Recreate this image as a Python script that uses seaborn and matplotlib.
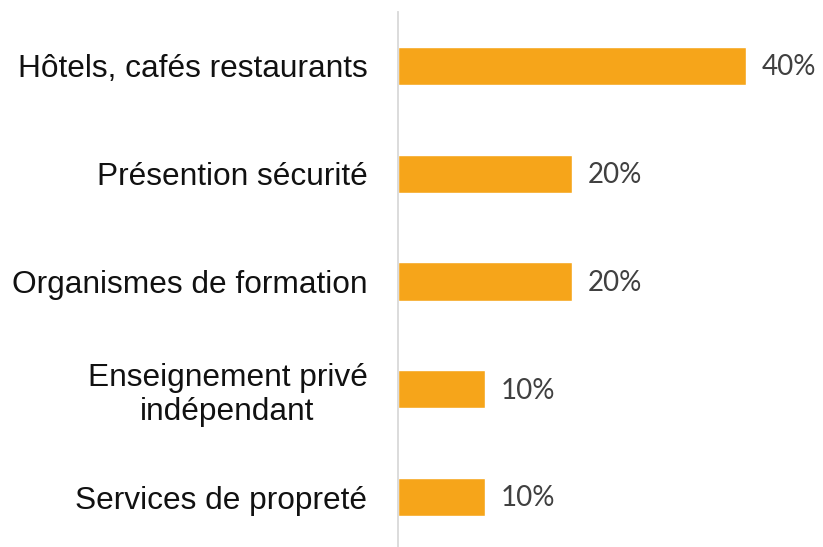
import matplotlib
matplotlib.use("Agg")
import matplotlib.pyplot as plt
import seaborn as sns
import pandas as pd

# %% Data
categories = ["Hôtels, cafés restaurants", "Présention sécurité",
              "Organismes de formation", "Enseignement privé\nindépendant",
              "Services de propreté"]
values = [0.40, 0.20, 0.20, 0.10, 0.10]
value_labels = ["40%", "20%", "20%", "10%", "10%"]

df = pd.DataFrame({"secteur": categories, "part": values})

# %% Plot
sns.set_style("white")
fig = plt.figure(figsize=(8.23, 5.47), dpi=100)
# axes from y=12px (top) down to ~551px (just below the figure edge)
ax = fig.add_axes([398 / 823, -4 / 547, 425 / 823, 539 / 547])

sns.barplot(data=df, x="part", y="secteur", orient="h", color="#F6A51A",
            width=0.355, saturation=1, ax=ax)

ax.set_xlim(0, 425 / 870)
ax.set_ylim(4.5, -0.5)
for i, lab in enumerate(value_labels):
    ax.annotate(lab, (values[i], i), xytext=(11, -1), textcoords="offset points",
                va="center", ha="left", fontsize=20, color="#404040",
                family=["Lato", "DejaVu Sans"])

ax.set_xlabel("")
ax.set_ylabel("")
ax.set_xticks([])
for s in ["top", "right", "bottom"]:
    ax.spines[s].set_visible(False)
ax.spines["left"].set_color("#d9d9d9")
ax.spines["left"].set_linewidth(1.3)
ax.tick_params(axis="y", length=0, pad=22)
for t in ax.get_yticklabels():
    t.set_fontsize(22.8)
    t.set_family(["Liberation Sans", "DejaVu Sans"])
    t.set_color("#111111")
    t.set_multialignment("center")

fig.savefig("out.png", dpi=100)
